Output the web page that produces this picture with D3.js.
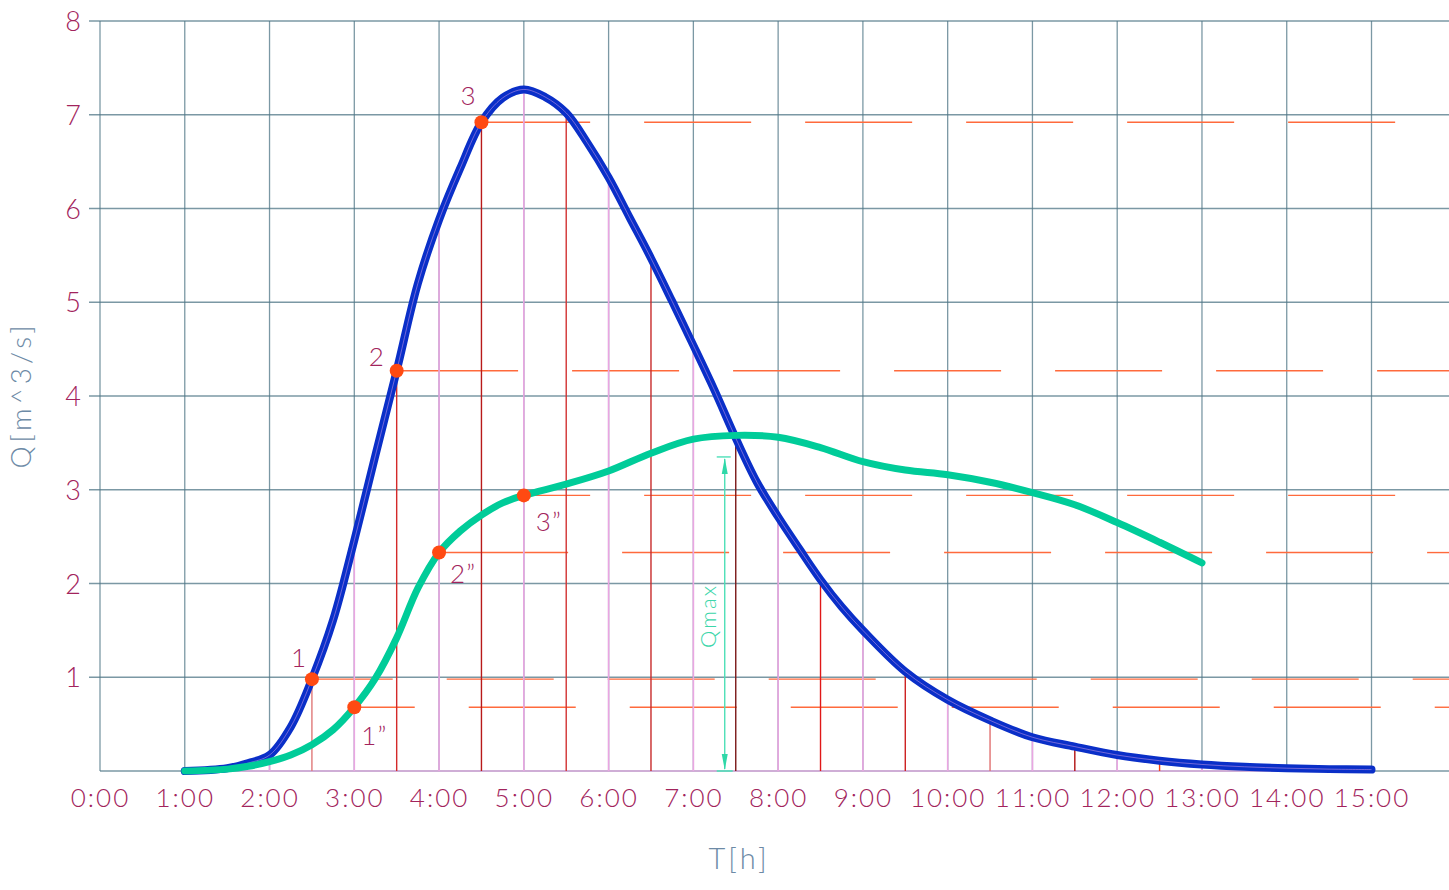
<!DOCTYPE html>
<html>
<head>
<meta charset="utf-8">
<script src="https://cdn.jsdelivr.net/npm/d3@7"></script>
<style>
  html, body { margin: 0; padding: 0; background: #fff; }
  svg { display: block; }
  text { font-family: Lato, Inter, "DejaVu Sans", sans-serif; font-weight: 300; }
</style>
</head>
<body>
<svg id="chart" width="1449" height="890"></svg>
<script>
// ---------------- DATA ----------------
const xTickHours = [0,1,2,3,4,5,6,7,8,9,10,11,12,13,14,15];
const xTickLabels = ["0:00","1:00","2:00","3:00","4:00","5:00","6:00","7:00","8:00","9:00","10:00","11:00","12:00","13:00","14:00","15:00"];
const yTickValues = [1,2,3,4,5,6,7,8];

// inflow hydrograph (blue)
const blueT = [1,1.5,1.75,2,2.25,2.5,2.75,3,3.25,3.5,3.75,4,4.25,4.5,4.75,5,5.25,5.5,5.75,6,6.25,6.5,6.75,7,7.25,7.5,7.75,8,8.25,8.5,8.75,9,9.5,10,10.5,11,11.5,12,12.5,13,13.5,14,14.5,15];
const blueQ = [0,0.03,0.085,0.17,0.47,0.98,1.61,2.46,3.37,4.27,5.2,5.88,6.43,6.92,7.18,7.27,7.19,7.02,6.7,6.33,5.9,5.47,5.01,4.54,4.06,3.55,3.08,2.71,2.37,2.04,1.75,1.5,1.06,0.76,0.54,0.36,0.26,0.17,0.11,0.07,0.045,0.03,0.02,0.015];

// outflow hydrograph (green)
const greenT = [1,1.5,1.75,2,2.25,2.5,2.75,3,3.25,3.5,3.75,4,4.25,4.5,4.75,5,5.5,6,6.5,7,7.5,8,8.5,9,9.5,10,10.5,11,11.5,12,12.5,13];
const greenQ = [0,0.02,0.05,0.1,0.17,0.28,0.44,0.68,0.99,1.42,1.95,2.33,2.56,2.73,2.86,2.94,3.06,3.2,3.39,3.54,3.58,3.56,3.45,3.3,3.21,3.16,3.08,2.97,2.84,2.65,2.44,2.22];

// marked points
const blueMarkT = [2.5,3.5,4.5];
const blueMarkQ = [0.98,4.27,6.92];
const blueMarkLabel = ["1","2","3"];
const greenMarkT = [3.0,4.0,5.0];
const greenMarkQ = [0.68,2.33,2.94];
const greenMarkLabel = ["1\u201D","2\u201D","3\u201D"];

// ordinate drop lines
const halfHourT = [2.5,3.5,4.5,5.5,6.5,7.5,8.5,9.5,10.5,11.5,12.5];
const wholeHourT = [2,3,4,5,6,7,8,9,10,11,12,13,14];

// Qmax annotation
const qmaxT = 7.37;
const qmaxQ = 3.35;

// ---------------- LAYOUT / STYLE ----------------
const svg = d3.select("#chart");
const x = d3.scaleLinear().domain([0, 15]).range([100, 1371.5]);
const y = d3.scaleLinear().domain([0, 8]).range([771, 21]);
const xRight = 1449;

const gridColor = "#4f7585";
const labelColor = "#a2245c";
const titleColor = "#6d8aa6";
const blue = "#0a2fc8";
const green = "#00cc99";
const dot = "#ff4a12";
const dashColor = "#ff6a3c";
const redShades = ["#e07878","#d42a2a","#b81a1a","#d23232","#c82a2a","#7a1818","#e01818","#cc2020","#e07070","#b01010","#ff4010"];
const pink = "#eaa6e2";
// label offsets (px) for the point numbers
const blueLabelOff = [[-21,-12],[-28,-5],[-21,-17]];
const greenLabelOff = [[7,38],[11,30],[12,36]];

// ---- grid ----
const grid = svg.append("g");
grid.selectAll("line.v").data(d3.range(0, 16)).enter().append("line")
  .attr("x1", d => x(d)).attr("x2", d => x(d))
  .attr("y1", y(8)).attr("y2", y(0))
  .attr("stroke", gridColor).attr("stroke-width", 1.3).attr("stroke-opacity", 0.75);
grid.selectAll("line.h").data([0].concat(yTickValues)).enter().append("line")
  .attr("x1", d => d === 0 ? x(0) : 89).attr("x2", xRight)
  .attr("y1", d => y(d)).attr("y2", d => y(d))
  .attr("stroke", gridColor).attr("stroke-width", 1.3).attr("stroke-opacity", 0.75);

// ---- axes labels via d3 axes ----
const yAxis = d3.axisLeft(y).tickValues(yTickValues).tickSize(0).tickPadding(0).tickFormat(d3.format("d"));
const gy = svg.append("g").attr("transform", "translate(81,0)").call(yAxis);
gy.select(".domain").remove();
gy.selectAll("text").attr("fill", labelColor).style("font-size", "27px").attr("dy", "0.36em").attr("x", 0);

const xAxis = d3.axisBottom(x).tickValues(xTickHours).tickSize(0).tickPadding(0)
  .tickFormat((d, i) => xTickLabels[i]);
const gx = svg.append("g").attr("transform", "translate(0,807)").call(xAxis);
gx.select(".domain").remove();
gx.selectAll("text").attr("fill", labelColor).style("font-size", "26px")
  .attr("dy", 0).attr("y", 0).style("letter-spacing", "2px");

// axis titles
svg.append("text").attr("x", 739).attr("y", 869).attr("text-anchor", "middle")
  .attr("fill", titleColor).style("font-size", "29px").style("letter-spacing", "3px").text("T[h]");
svg.append("text").attr("transform", "translate(31,395) rotate(-90)").attr("text-anchor", "middle")
  .attr("fill", titleColor).style("font-size", "28px").style("letter-spacing", "4px").text("Q[m^3/s]");

// ---- baseline overlay (lilac) ----
svg.append("line").attr("x1", x(1)).attr("x2", x(15)).attr("y1", y(0)).attr("y2", y(0))
  .attr("stroke", "#cfaed6").attr("stroke-width", 2);

// ---- dashed horizontal lines from marked points ----
const dashLen = 107, gapLen = 54, period = dashLen + gapLen;
const dashPhaseT = [4.09, 3.67, 4.52, 4.35, 4.26, 4.52]; // pattern alignment per row
const rowT = blueMarkT.concat(greenMarkT);
const rowQ = blueMarkQ.concat(greenMarkQ);
const dashSegs = [];
rowT.forEach((t, i) => {
  const sx = x(t), py = y(rowQ[i]), ph = x(dashPhaseT[i]);
  let k = Math.floor((sx - ph) / period);
  let ds = ph + k * period;
  let firstEnd;
  if (sx - ds < dashLen) firstEnd = ds + dashLen; else { k += 1; firstEnd = ph + k * period + dashLen; }
  dashSegs.push({x1: sx, x2: Math.min(firstEnd, xRight), y: py});
  let s = ph + (k + 1) * period;
  while (s < xRight) {
    dashSegs.push({x1: s, x2: Math.min(s + dashLen, xRight), y: py});
    s += period;
  }
});
svg.append("g").selectAll("line").data(dashSegs).enter().append("line")
  .attr("x1", d => d.x1).attr("x2", d => d.x2).attr("y1", d => d.y).attr("y2", d => d.y)
  .attr("stroke", dashColor).attr("stroke-width", 1.4);

// ---- vertical ordinates down from the inflow curve ----
const blueAt = t => {
  const i = d3.bisectLeft(blueT, t);
  if (blueT[i] === t) return blueQ[i];
  const t0 = blueT[i-1], t1 = blueT[i];
  return blueQ[i-1] + (blueQ[i] - blueQ[i-1]) * (t - t0) / (t1 - t0);
};
svg.append("g").selectAll("line").data(wholeHourT).enter().append("line")
  .attr("x1", d => x(d)).attr("x2", d => x(d))
  .attr("y1", d => y(blueAt(d))).attr("y2", y(0))
  .attr("stroke", pink).attr("stroke-width", 1.6);
svg.append("g").selectAll("line").data(halfHourT).enter().append("line")
  .attr("x1", d => x(d)).attr("x2", d => x(d))
  .attr("y1", d => y(blueAt(d))).attr("y2", y(0))
  .attr("stroke", (d, i) => redShades[i % redShades.length]).attr("stroke-width", 1.4);

// ---- Qmax annotation ----
const qa = svg.append("g");
const qx = x(qmaxT);
qa.append("line").attr("x1", qx).attr("x2", qx).attr("y1", y(qmaxQ) + 2).attr("y2", y(0) - 2)
  .attr("stroke", "#4ee0b8").attr("stroke-width", 1.4);
qa.append("line").attr("x1", qx - 8).attr("x2", qx + 6).attr("y1", y(qmaxQ)).attr("y2", y(qmaxQ))
  .attr("stroke", "#4ee0b8").attr("stroke-width", 1.4);
qa.append("line").attr("x1", qx - 8).attr("x2", qx + 8).attr("y1", y(0)).attr("y2", y(0))
  .attr("stroke", "#4ee0b8").attr("stroke-width", 1.6);
qa.append("path").attr("d", `M${qx},${y(qmaxQ)+1} L${qx-3},${y(qmaxQ)+17} L${qx+3},${y(qmaxQ)+17} Z`).attr("fill", "#2fd8a8");
qa.append("path").attr("d", `M${qx},${y(0)-1} L${qx-3},${y(0)-17} L${qx+3},${y(0)-17} Z`).attr("fill", "#2fd8a8");
qa.append("text").attr("transform", `translate(${qx - 9},${(y(qmaxQ) + y(0)) / 2 + 2}) rotate(-90)`)
  .attr("text-anchor", "middle").attr("fill", "#3cd6aa").style("font-size", "22px").style("letter-spacing", "2px").text("Qmax");

// ---- curves ----
const line = d3.line().x(d => x(d[0])).y(d => y(d[1])).curve(d3.curveCatmullRom.alpha(0.5));
const bluePts = blueT.map((t, i) => [t, blueQ[i]]);
const greenPts = greenT.map((t, i) => [t, greenQ[i]]);
svg.append("path").attr("d", line(bluePts)).attr("fill", "none")
  .attr("stroke", blue).attr("stroke-width", 8).attr("stroke-linecap", "round").attr("stroke-linejoin", "round");
svg.append("path").attr("d", line(bluePts)).attr("fill", "none")
  .attr("stroke", "#e4a6ec").attr("stroke-width", 0.6).attr("stroke-opacity", 0.8);
svg.append("path").attr("d", line(greenPts)).attr("fill", "none")
  .attr("stroke", green).attr("stroke-width", 7).attr("stroke-linecap", "round").attr("stroke-linejoin", "round");

// ---- marked points ----
const marks = blueMarkT.map((t, i) => ({t, q: blueMarkQ[i], label: blueMarkLabel[i], off: blueLabelOff[i]}))
  .concat(greenMarkT.map((t, i) => ({t, q: greenMarkQ[i], label: greenMarkLabel[i], off: greenLabelOff[i]})));
svg.append("g").selectAll("circle").data(marks).enter().append("circle")
  .attr("cx", d => x(d.t)).attr("cy", d => y(d.q)).attr("r", 7).attr("fill", dot);
svg.append("g").selectAll("text").data(marks).enter().append("text")
  .attr("x", d => x(d.t) + d.off[0]).attr("y", d => y(d.q) + d.off[1])
  .attr("text-anchor", "start").attr("fill", labelColor).style("font-size", "26px")
  .style("letter-spacing", "1px").text(d => d.label);
</script>
</body>
</html>
